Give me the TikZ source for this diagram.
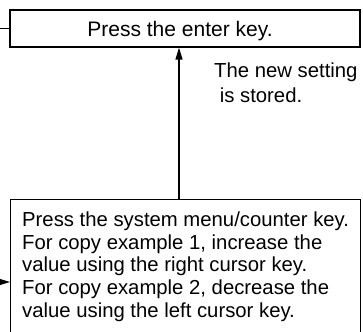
\documentclass[tikz,border=0pt]{standalone}
\usepackage{fontspec}
\setmainfont{Liberation Sans}
\usetikzlibrary{arrows.meta,positioning}

\tikzset{
    stepbox/.style={draw, line width=1.2pt, inner sep=0pt},
    flow/.style={line width=1.2pt, -{Triangle[length=12pt,width=7pt]}},
    link/.style={line width=1.2pt},
}

\begin{document}
\begin{tikzpicture}[x=1pt, y=-1pt, font=\fontsize{20.3}{22.7}\selectfont]
        % --- 1. Page frame ---
        \useasboundingbox (0,0) rectangle (363,331);

        % --- 2. Steps ---
        \node[stepbox, minimum width=350pt, minimum height=37pt,
              text height=16pt, text depth=0pt, font=\fontsize{21}{24}\selectfont]
            (enter) at (185,28.5) {\hspace*{-10pt}Press the enter key.};
        \node[stepbox, anchor=north west, minimum width=350pt, align=left,
              inner xsep=10pt, inner ysep=12pt] (system) at (10,199)
            {Press the system menu/counter key.\\
             For copy example 1, increase the\\
             value using the right cursor key.\\
             For copy example 2, decrease the\\
             value using the left cursor key.\rule[-14pt]{0pt}{14pt}};

        % --- 3. Connectors ---
        \coordinate (mid) at (179,120);
        \draw[flow] (mid |- system.north) -- (mid |- enter.south);

        % Comes in from the left
        \coordinate (feed) at (0,282);
        \draw[flow] (feed) -- (feed -| system.west);

        % Leaves to the left
        \coordinate (back) at (0,28.5);
        \draw[link] (enter.west) -- (back);

        % --- 4. Note ---
        \node[anchor=north west, inner sep=0pt, align=left,
              font=\fontsize{20.3}{25}\selectfont] (note) at (214,63)
            {The new setting\\~is stored.};
\end{tikzpicture}
\end{document}
